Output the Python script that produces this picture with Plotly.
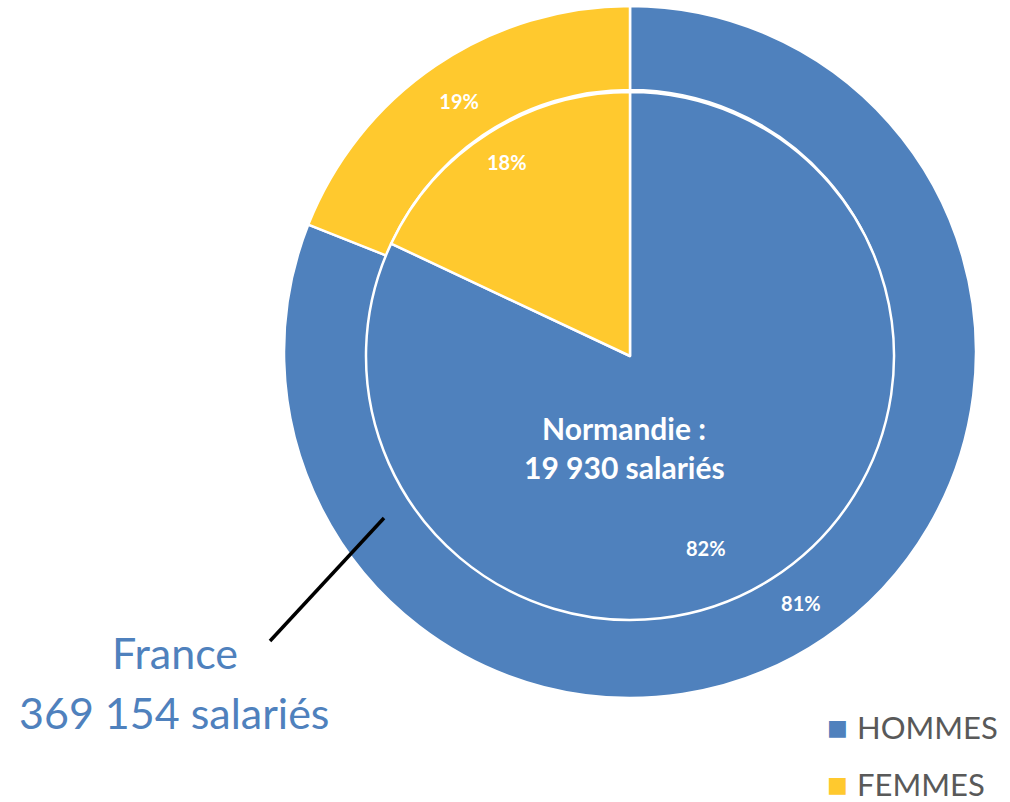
import plotly.graph_objects as go

labels = ["HOMMES", "FEMMES"]
france_pct = [81, 19]
normandie_pct = [82, 18]
colors = ["#4F81BD", "#FFC92E"]
france_title = ["France", "369 154 salariés"]
normandie_title = ["Normandie :", "19 930 salariés"]

W, H = 1010, 802
FONT = "Lato, 'Open Sans', sans-serif"

def px(x, y):
    return x / W, 1 - y / H

fig = go.Figure()

# Outer ring: France
cx, cy, R, r = 630, 352, 346, 264
fig.add_trace(go.Pie(
    labels=labels, values=france_pct, sort=False, direction="clockwise", rotation=0,
    hole=(r - 2) / R,
    marker=dict(colors=colors, line=dict(color="white", width=2.5)),
    text=[f"{v}%" for v in france_pct], textinfo="text",
    textposition="inside", insidetextorientation="horizontal",
    textfont=dict(color="white", size=20, family=FONT, weight="bold"),
    domain=dict(x=[(cx - R) / W, (cx + R) / W], y=[1 - (cy + R) / H, 1 - (cy - R) / H]),
    showlegend=False, hoverinfo="label+percent",
))

# Inner pie: Normandie
icx, icy = 630, 356
fig.add_trace(go.Pie(
    labels=labels, values=normandie_pct, sort=False, direction="clockwise", rotation=0,
    marker=dict(colors=colors, line=dict(color="white", width=2.5)),
    textinfo="none",
    domain=dict(x=[(icx - r) / W, (icx + r) / W], y=[1 - (icy + r) / H, 1 - (icy - r) / H]),
    showlegend=False, hoverinfo="label+percent",
))

annotations = []
# Inner percentages
inner_label_pos = [(706, 548), (507, 162)]
for v, (x, y) in zip(normandie_pct, inner_label_pos):
    ax, ay = px(x, y)
    annotations.append(dict(x=ax, y=ay, xref="paper", yref="paper", text=f"{v}%",
                            xanchor="center", yanchor="middle", showarrow=False,
                            font=dict(color="white", size=20, family=FONT, weight="bold")))
# Normandie title
for t, (x, y) in zip(normandie_title, [(624, 428), (624, 467)]):
    ax, ay = px(x, y)
    annotations.append(dict(x=ax, y=ay, xref="paper", yref="paper", text=t, showarrow=False,
                            xanchor="center", yanchor="middle",
                            font=dict(color="white", size=30, family=FONT, weight="bold")))
# France title
for t, (x, y) in zip(france_title, [(175, 652), (174, 712)]):
    ax, ay = px(x, y)
    annotations.append(dict(x=ax, y=ay, xref="paper", yref="paper", text=t, showarrow=False,
                            xanchor="center", yanchor="middle",
                            font=dict(color="#4F81BD", size=43, family=FONT)))

# Legend
legend_rows = [727, 784]
for lab, col, y in zip(labels, colors, legend_rows):
    ax, ay = px(825, y)
    annotations.append(dict(x=ax, y=ay, xref="paper", yref="paper", text="■", showarrow=False,
                            xanchor="left", yanchor="middle",
                            font=dict(color=col, size=22, family="DejaVu Sans")))
    ax, ay = px(855, y)
    annotations.append(dict(x=ax, y=ay, xref="paper", yref="paper", text=lab, showarrow=False,
                            xanchor="left", yanchor="middle",
                            font=dict(color="#595959", size=31, family=FONT)))

x0, y0 = px(270, 641)
x1, y1 = px(384, 518)
fig.add_shape(type="line", xref="paper", yref="paper", x0=x0, y0=y0, x1=x1, y1=y1,
              line=dict(color="black", width=3.5))

fig.update_layout(
    width=W, height=H, margin=dict(l=0, r=0, t=0, b=0),
    paper_bgcolor="white", plot_bgcolor="white",
    annotations=annotations, showlegend=False,
)

fig.write_html("out.html", config={"displayModeBar": False},
               post_script="document.body.style.margin='0px';")
